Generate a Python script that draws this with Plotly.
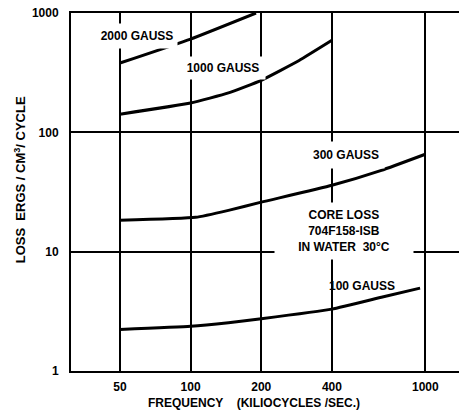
import math
import plotly.graph_objects as go

# ---- data ----
freq_2000 = [50, 100, 190]
loss_2000 = [381, 605, 1000]

freq_1000 = [50, 100, 145, 200, 290, 400]
loss_1000 = [142, 176, 214, 273, 400, 590]

freq_300 = [50, 105, 145, 200, 400, 650, 1000]
loss_300 = [18.3, 19.4, 22.2, 26.0, 36.0, 48.0, 65.5]

freq_100 = [50, 100, 145, 200, 400, 650, 950]
loss_100 = [2.23, 2.37, 2.54, 2.74, 3.30, 4.15, 4.95]

x_ticks = [50, 100, 200, 400, 1000]
x_tick_text = ["50", "100", "200", "400", "1000"]
y_ticks = [1, 10, 100, 1000]
y_tick_text = ["1", "10", "100", "1000"]

FONT = "Liberation Sans"

fig = go.Figure()
for fx, ly in [(freq_2000, loss_2000), (freq_1000, loss_1000),
               (freq_300, loss_300), (freq_100, loss_100)]:
    fig.add_trace(go.Scatter(x=fx, y=ly, mode="lines",
                             line=dict(color="black", width=3, shape="spline", smoothing=0.4),
                             showlegend=False, hoverinfo="skip"))

def lbl(text, fx, ly, w=None, h=None, bg=True):
    d = dict(text=text, x=math.log10(fx), y=math.log10(ly), xref="x", yref="y",
             xanchor="center", yanchor="middle",
             showarrow=False, font=dict(family=FONT, size=12, color="black", weight="bold"),
             borderpad=0)
    if bg:
        d.update(bgcolor="white", width=w, height=h)
    fig.add_annotation(**d)

lbl("2000 GAUSS", 10**1.7737, 10**2.805, 80, 24)
lbl("1000 GAUSS", 10**2.1359, 10**2.536, 84, 22)
lbl("300 GAUSS", 10**2.66, 10**1.807, 76, 26)
lbl("CORE LOSS<br>704F158-ISB<br>IN WATER\u00a0\u00a030\u00b0C", 10**2.6536, 10**1.175, 138, 56)
lbl("100 GAUSS", 10**2.7316, 10**0.7095, bg=False)

# axis titles
fig.add_annotation(text="LOSS\u00a0 ERGS / CM<sup>3</sup>/ CYCLE", xref="paper", yref="paper",
                   x=(20 - 71) / 388, y=(370.7 - 180) / 358, textangle=-90, showarrow=False,
                   xanchor="center", yanchor="middle",
                   font=dict(family=FONT, size=13, color="black", weight="bold"))
fig.add_annotation(text="FREQUENCY\u00a0\u00a0\u00a0 (KILIOCYCLES /SEC.)", xref="paper", yref="paper",
                   x=(254 - 71) / 388, y=(370.7 - 403) / 358, showarrow=False,
                   xanchor="center", yanchor="middle",
                   font=dict(family=FONT, size=12, color="black", weight="bold"))

fig.update_layout(
    width=459, height=412,
    margin=dict(l=71, r=0, t=13, b=41),
    paper_bgcolor="white", plot_bgcolor="white",
    xaxis=dict(type="log", range=[1.4904, 3.1436], tickvals=x_ticks, ticktext=x_tick_text,
               showgrid=True, gridcolor="black", gridwidth=2,
               showline=True, linecolor="black", linewidth=2, mirror=True,
               ticks="", ticklabelstandoff=4,
               tickfont=dict(family=FONT, size=12, color="black", weight="bold")),
    yaxis=dict(type="log", range=[0, 3], tickvals=y_ticks, ticktext=y_tick_text,
               showgrid=True, gridcolor="black", gridwidth=2,
               showline=True, linecolor="black", linewidth=2,
               ticks="", ticklabelstandoff=8,
               tickfont=dict(family=FONT, size=12, color="black", weight="bold")),
)

fig.write_html("out.html")
